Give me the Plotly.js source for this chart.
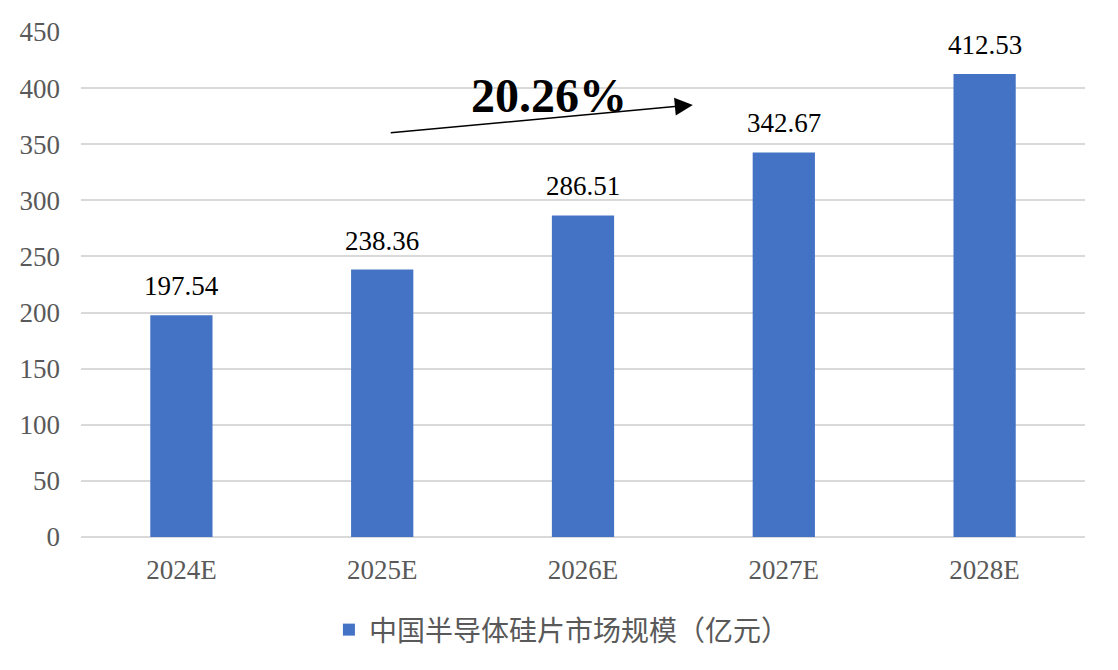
<!DOCTYPE html>
<html>
<head>
<meta charset="utf-8">
<script src="https://cdn.plot.ly/plotly-3.0.1.min.js"></script>
<style>html,body{margin:0;padding:0;background:#fff;}#chart{width:1118px;height:670px;}</style>
</head>
<body>
<div id="chart"></div>
<script>
const categories = ["2024E", "2025E", "2026E", "2027E", "2028E"];
const values = [197.54, 238.36, 286.51, 342.67, 412.53];
const seriesName = "中国半导体硅片市场规模（亿元）";
const cagrText = "20.26%";
const yTicks = [0, 50, 100, 150, 200, 250, 300, 350, 400, 450];

const serif = "Liberation Serif";

const trace = {
  type: "bar",
  x: categories,
  y: values,
  name: seriesName,
  marker: {color: "#4472C4"},
  hoverinfo: "x+y"
};

const labelAnns = categories.map((c, i) => ({
  x: c, y: values[i], xref: "x", yref: "y",
  text: values[i].toFixed(2),
  showarrow: false, yanchor: "bottom", yshift: 12,
  font: {family: serif, size: 27, color: "#000000"}
}));

const layout = {
  width: 1118, height: 670,
  margin: {l: 81, r: 33, t: 32, b: 133},
  paper_bgcolor: "#ffffff", plot_bgcolor: "#ffffff",
  bargap: 0.69,
  showlegend: true,
  legend: {
    orientation: "h", x: 0.479, xanchor: "center", y: -0.184, yanchor: "middle",
    font: {family: "Noto Sans CJK SC", size: 28, color: "#595959"},
    itemwidth: 30
  },
  xaxis: {
    type: "category",
    showgrid: false, showline: false, zeroline: false, ticks: "",
    tickfont: {family: serif, size: 27, color: "#595959"},
    ticklabelstandoff: 14
  },
  yaxis: {
    range: [0, 450], tickvals: yTicks,
    showgrid: true, gridcolor: "#D9D9D9", gridwidth: 2,
    zeroline: true, zerolinecolor: "#D9D9D9", zerolinewidth: 2,
    showline: false, ticks: "",
    tickfont: {family: serif, size: 27, color: "#595959"},
    ticklabelstandoff: 20
  },
  annotations: labelAnns.concat([
    {
      xref: "x", yref: "y", axref: "x", ayref: "y",
      x: 2.547, y: 385.0, ax: 1.035, ay: 360.0,
      text: "", showarrow: true, arrowhead: 2, arrowsize: 2.4, arrowwidth: 1.5,
      arrowcolor: "#000000", standoff: 0
    },
    {
      xref: "paper", yref: "paper", x: (549 - 81) / 1004, y: (537 - 95) / 505,
      text: "<b>" + cagrText + "</b>", showarrow: false,
      xanchor: "center", yanchor: "middle",
      font: {family: serif, size: 48, color: "#000000"}
    }
  ])
};

Plotly.newPlot("chart", [trace], layout, {displayModeBar: false, staticPlot: true});
</script>
</body>
</html>
